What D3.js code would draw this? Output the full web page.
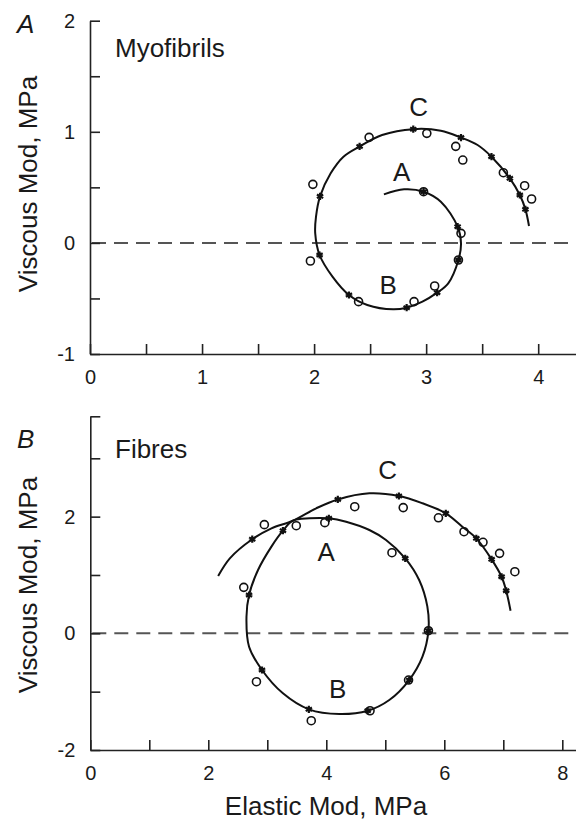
<!DOCTYPE html>
<html>
<head>
<meta charset="utf-8">
<script src="https://cdn.jsdelivr.net/npm/d3@7"></script>
<style>
  body { margin: 0; background: #fff; }
  svg text { font-family: "Liberation Sans", Arial, Helvetica, sans-serif; fill: #1a1a1a; }
</style>
</head>
<body>
<script>
// ---- panel A : myofibrils (elastic, viscous modulus in MPa) ----
var myoCurve = [[2.623,0.437],[2.803,0.482],[2.977,0.461],[3.131,0.371],[3.281,0.146],[3.311,-0.004],
  [3.288,-0.154],[3.197,-0.364],[3.098,-0.448],[2.967,-0.529],[2.826,-0.583],[2.705,-0.598],
  [2.475,-0.559],[2.311,-0.469],[2.164,-0.304],[2.049,-0.109],[2.010,0.086],[2.017,0.236],
  [2.053,0.419],[2.148,0.626],[2.262,0.776],[2.406,0.868],[2.607,0.971],[2.885,1.024],
  [3.131,1.010],[3.311,0.948],[3.459,0.881],[3.583,0.776],[3.747,0.581],[3.836,0.431],
  [3.886,0.302],[3.918,0.152]];
var myoStars = [[2.977,0.461],[3.281,0.146],[3.288,-0.154],[3.098,-0.448],[2.826,-0.583],
  [2.311,-0.469],[2.049,-0.109],[2.053,0.419],[2.406,0.868],[2.885,1.024],[3.311,0.948],
  [3.583,0.776],[3.747,0.581],[3.836,0.431],[3.886,0.302]];
var myoCircles = [[1.989,0.527],[1.967,-0.163],[2.397,-0.529],[2.491,0.950],[3.006,0.986],
  [3.264,0.869],[3.327,0.746],[3.689,0.632],[3.879,0.515],[3.941,0.395],[3.311,0.086],
  [3.076,-0.388],[2.892,-0.529],[2.977,0.461],[3.288,-0.154]];
var myoLetters = [['C',2.934,1.226],['A',2.782,0.641],['B',2.662,-0.379]];
var myoXTicks = [0,0.5,1,1.5,2,2.5,3,3.5,4];
var myoXLabels = [0,1,2,3,4];
var myoYTicks = [-1,-0.5,0,0.5,1,1.5,2];
var myoYLabels = [-1,0,1,2];

// ---- panel B : fibres ----
var fibCurveC = [[2.167,0.982],[2.365,1.286],[2.745,1.613],[3.07,1.80],[3.434,1.93],[3.829,2.143],
  [4.195,2.295],[4.73,2.40],[5.23,2.354],[5.63,2.229],[6.025,2.057],[6.306,1.828],
  [6.543,1.628],[6.802,1.268],[6.971,0.970],[7.049,0.730],[7.123,0.387]];
var fibLoop = [[3.716,1.971],[4.043,1.971],[4.336,1.913],[4.73,1.771],[5.012,1.600],[5.338,1.286],
  [5.574,0.914],[5.713,0.457],[5.731,0.045],[5.630,-0.401],[5.405,-0.801],[5.068,-1.143],
  [4.701,-1.327],[4.223,-1.384],[3.704,-1.303],[3.265,-1.029],[2.910,-0.629],[2.691,-0.229],
  [2.647,0.285],[2.691,0.657],[2.843,1.085],[3.07,1.486],[3.265,1.759],[3.434,1.93]];
var fibStars = [[2.745,1.613],[4.195,2.295],[5.23,2.354],[6.025,2.057],[6.543,1.628],[6.802,1.268],
  [6.971,0.970],[7.049,0.730],[3.265,1.759],[4.043,1.971],[5.338,1.286],[5.731,0.045],
  [5.405,-0.801],[4.701,-1.327],[3.704,-1.303],[2.910,-0.629],[2.691,0.657]];
var fibCircles = [[2.95,1.863],[3.491,1.845],[4.482,2.17],[5.304,2.155],[5.901,1.98],[6.334,1.742],
  [6.656,1.560],[6.937,1.371],[7.196,1.056],[3.975,1.897],[5.113,1.382],[5.731,0.045],
  [5.394,-0.801],[4.741,-1.327],[3.745,-1.498],[2.816,-0.829],[2.601,0.788]];
var fibLetters = [['C',5.039,2.812],['A',3.998,1.399],['B',4.194,-0.943]];
var fibXTicks = [0,1,2,3,4,5,6,7,8];
var fibXLabels = [0,2,4,6,8];
var fibYTicks = [-2,-1,0,1,2,3,3.72];
var fibYLabels = [-2,0,2];

var width = 576, height = 822;
var svg = d3.select('body').append('svg')
  .attr('width', width)
  .attr('height', height);

var starType = d3.symbolAsterisk || d3.symbolCross;

function drawPanel(p) {
  var g = svg.append('g');

  var xAxis = d3.axisBottom(p.x)
    .tickValues(p.xTicks)
    .tickSizeInner(-10).tickSizeOuter(0).tickPadding(16)
    .tickFormat(function(d) { return p.xLabels.indexOf(d) >= 0 ? d : ''; });
  var yAxis = d3.axisLeft(p.y)
    .tickValues(p.yTicks)
    .tickSizeInner(-10).tickSizeOuter(0).tickPadding(15)
    .tickFormat(function(d) { return p.yLabels.indexOf(d) >= 0 ? d : ''; });

  // zero line
  g.append('line')
    .attr('x1', p.x(0) + 2).attr('x2', width)
    .attr('y1', p.y(0)).attr('y2', p.y(0))
    .attr('stroke', '#555')
    .attr('stroke-width', 2)
    .attr('stroke-dasharray', '14,8');

  [g.append('g').attr('transform', 'translate(0,' + p.y.range()[0] + ')').call(xAxis),
   g.append('g').attr('transform', 'translate(' + p.x.range()[0] + ',0)').call(yAxis)]
    .forEach(function(ax) {
      ax.attr('font-size', 20).attr('font-family', null);
      ax.selectAll('path, line').attr('stroke', '#222').attr('stroke-width', 1.6);
      ax.selectAll('text').attr('fill', '#1a1a1a');
    });

  var line = d3.line()
    .x(function(d) { return p.x(d[0]); })
    .y(function(d) { return p.y(d[1]); });

  p.curves.forEach(function(c) {
    g.append('path')
      .attr('d', line.curve(c.closed ? d3.curveCatmullRomClosed : d3.curveCatmullRom)(c.pts))
      .attr('fill', 'none')
      .attr('stroke', '#111')
      .attr('stroke-width', 2);
  });

  g.selectAll('circle.obs')
    .data(p.circles)
    .enter()
    .append('circle')
    .attr('class', 'obs')
    .attr('cx', function(d) { return p.x(d[0]); })
    .attr('cy', function(d) { return p.y(d[1]); })
    .attr('r', 4)
    .attr('fill', 'none')
    .attr('stroke', '#111')
    .attr('stroke-width', 1.6);

  g.selectAll('path.star')
    .data(p.stars)
    .enter()
    .append('path')
    .attr('class', 'star')
    .attr('d', d3.symbol().type(starType).size(36))
    .attr('transform', function(d) { return 'translate(' + p.x(d[0]) + ',' + p.y(d[1]) + ')'; })
    .attr('fill', '#111')
    .attr('stroke', '#111')
    .attr('stroke-width', 2.2);

  g.selectAll('text.lett')
    .data(p.letters)
    .enter()
    .append('text')
    .attr('class', 'lett')
    .attr('x', function(d) { return p.x(d[1]); })
    .attr('y', function(d) { return p.y(d[2]); })
    .attr('dy', '0.36em')
    .attr('text-anchor', 'middle')
    .attr('font-size', 26)
    .text(function(d) { return d[0]; });

  // panel tag, title, y label
  g.append('text')
    .attr('x', 17).attr('y', p.tagY)
    .attr('font-size', 26)
    .attr('font-style', 'italic')
    .text(p.tag);

  g.append('text')
    .attr('x', 115).attr('y', p.titleY)
    .attr('font-size', 26)
    .text(p.title);

  g.append('text')
    .attr('transform', 'translate(37,' + p.yLabelMid + ') rotate(-90)')
    .attr('text-anchor', 'middle')
    .attr('font-size', 26)
    .text('Viscous Mod, MPa');
}

drawPanel({
  x: d3.scaleLinear().domain([0, 4.34]).range([90, 90 + 4.34 * 112.05]),
  y: d3.scaleLinear().domain([-1, 2]).range([354, 20.7]),
  xTicks: myoXTicks, xLabels: myoXLabels,
  yTicks: myoYTicks, yLabels: myoYLabels,
  curves: [{pts: myoCurve, closed: false}],
  stars: myoStars, circles: myoCircles, letters: myoLetters,
  tag: 'A', tagY: 33, title: 'Myofibrils', titleY: 57, yLabelMid: 184
});

drawPanel({
  x: d3.scaleLinear().domain([0, 8.25]).range([90.3, 90.3 + 8.25 * 59]),
  y: d3.scaleLinear().domain([-2, 3.72]).range([750, 416.3]),
  xTicks: fibXTicks, xLabels: fibXLabels,
  yTicks: fibYTicks, yLabels: fibYLabels,
  curves: [{pts: fibCurveC, closed: false}, {pts: fibLoop, closed: true}],
  stars: fibStars, circles: fibCircles, letters: fibLetters,
  tag: 'B', tagY: 448, title: 'Fibres', titleY: 458, yLabelMid: 585
});

svg.append('text')
  .attr('x', 326)
  .attr('y', 815)
  .attr('text-anchor', 'middle')
  .attr('font-size', 26)
  .text('Elastic Mod, MPa');
</script>
</body>
</html>
